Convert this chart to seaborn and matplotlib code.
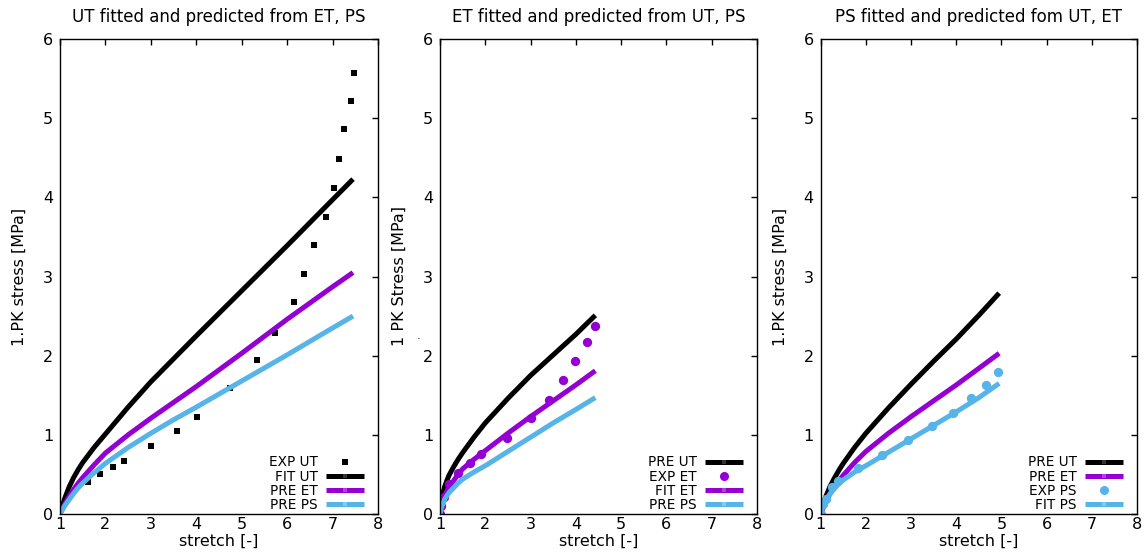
import numpy as np
import pandas as pd
import matplotlib
matplotlib.use("Agg")
import matplotlib.pyplot as plt
from matplotlib.lines import Line2D
import seaborn as sns

# ---------------- data ----------------
# Panel 1: UT fitted and predicted from ET, PS
exp_ut_x = [1.0, 1.62, 1.88, 2.16, 2.41, 3.01, 3.57, 4.01, 4.75, 5.34, 5.74, 6.15, 6.37, 6.60, 6.86, 7.03, 7.14, 7.25, 7.41, 7.48]
exp_ut_y = [0.0, 0.41, 0.505, 0.60, 0.67, 0.855, 1.05, 1.22, 1.59, 1.94, 2.29, 2.68, 3.03, 3.40, 3.75, 4.12, 4.48, 4.86, 5.22, 5.57]
p1_stretch = [1.0, 1.02, 1.05, 1.1, 1.2, 1.3, 1.4, 1.5, 1.75, 2.0, 2.5, 3.0, 3.5, 4.0, 5.0, 6.0, 7.0, 7.45]
p1_fit_ut = [0.0, 0.045, 0.10, 0.19, 0.34, 0.46, 0.56, 0.65, 0.84, 1.01, 1.35, 1.67, 1.96, 2.25, 2.82, 3.39, 3.97, 4.23]
p1_pre_et = [0.0, 0.025, 0.06, 0.12, 0.22, 0.31, 0.39, 0.46, 0.62, 0.77, 1.00, 1.21, 1.41, 1.61, 2.03, 2.46, 2.87, 3.05]
p1_pre_ps = [0.0, 0.02, 0.05, 0.10, 0.18, 0.26, 0.33, 0.39, 0.52, 0.64, 0.84, 1.02, 1.19, 1.35, 1.68, 2.01, 2.35, 2.50]

# Panel 2: ET fitted and predicted from UT, PS
exp_et_x = [1.0, 1.03, 1.08, 1.20, 1.40, 1.66, 1.91, 2.47, 3.02, 3.40, 3.72, 3.99, 4.24, 4.43]
exp_et_y = [0.0, 0.10, 0.22, 0.38, 0.52, 0.65, 0.76, 0.96, 1.21, 1.44, 1.69, 1.93, 2.17, 2.37]
p2_stretch = [1.0, 1.02, 1.05, 1.1, 1.15, 1.2, 1.3, 1.4, 1.5, 1.75, 2.0, 2.5, 3.0, 3.5, 4.0, 4.43]
p2_pre_ut = [0.0, 0.12, 0.22, 0.34, 0.42, 0.49, 0.595, 0.69, 0.775, 0.97, 1.15, 1.46, 1.75, 2.01, 2.27, 2.51]
p2_fit_et = [0.0, 0.07, 0.14, 0.22, 0.29, 0.34, 0.42, 0.50, 0.57, 0.69, 0.80, 1.02, 1.23, 1.43, 1.63, 1.81]
p2_pre_ps = [0.0, 0.06, 0.11, 0.18, 0.23, 0.27, 0.33, 0.39, 0.44, 0.53, 0.61, 0.79, 0.97, 1.15, 1.32, 1.47]

# Panel 3: PS fitted and predicted fom UT, ET
exp_ps_x = [1.0, 1.06, 1.12, 1.24, 1.39, 1.83, 2.35, 2.94, 3.46, 3.92, 4.33, 4.65, 4.93]
exp_ps_y = [0.0, 0.13, 0.19, 0.34, 0.42, 0.58, 0.75, 0.94, 1.11, 1.28, 1.46, 1.63, 1.79]
p3_stretch = [1.0, 1.02, 1.05, 1.1, 1.15, 1.2, 1.3, 1.4, 1.5, 1.75, 2.0, 2.5, 3.0, 3.5, 4.0, 4.5, 4.95]
p3_pre_ut = [0.0, 0.05, 0.11, 0.20, 0.27, 0.34, 0.45, 0.55, 0.64, 0.84, 1.02, 1.34, 1.64, 1.93, 2.21, 2.51, 2.79]
p3_pre_et = [0.0, 0.03, 0.07, 0.14, 0.20, 0.25, 0.34, 0.42, 0.49, 0.65, 0.79, 1.02, 1.23, 1.43, 1.63, 1.84, 2.03]
p3_fit_ps = [0.0, 0.04, 0.09, 0.15, 0.20, 0.25, 0.32, 0.38, 0.43, 0.53, 0.61, 0.78, 0.95, 1.12, 1.29, 1.47, 1.65]

titles = ["UT fitted and predicted from ET, PS",
          "ET fitted and predicted from UT, PS",
          "PS fitted and predicted fom UT, ET"]
ylabels = ["1.PK stress [MPa]", "1 PK Stress [MPa]", "1.PK stress [MPa]"]
xlabel = "stretch [-]"
xticks = [1, 2, 3, 4, 5, 6, 7, 8]
yticks = [0, 1, 2, 3, 4, 5, 6]

# ---------------- style ----------------
BLACK = "#000000"
PURPLE = "#9400D3"
BLUE = "#56B4E9"
LW = 3.6

sns.set_theme(style="white")
plt.rcParams["font.family"] = ["DejaVu Sans"]
plt.rcParams["axes.edgecolor"] = "black"
plt.rcParams["axes.linewidth"] = 1.0
plt.rcParams["text.color"] = "black"
plt.rcParams["axes.labelcolor"] = "black"
plt.rcParams["xtick.color"] = "black"
plt.rcParams["ytick.color"] = "black"

fig = plt.figure(figsize=(11.45, 5.53), dpi=100)
W, H = 1145.0, 553.0
lefts = [60, 440, 820.7]
rights = [378, 757, 1137]
top, bottom = 39, 514
axes = []
for l, r in zip(lefts, rights):
    ax = fig.add_axes([l / W, 1 - bottom / H, (r - l) / W, (bottom - top) / H])
    axes.append(ax)


def line(ax, x, y, color):
    df = pd.DataFrame({"x": x, "y": y})
    sns.lineplot(data=df, x="x", y="y", ax=ax, color=color, linewidth=LW,
                 legend=False, sort=False, solid_capstyle="butt", solid_joinstyle="round")


def points(ax, x, y, color, marker, size):
    df = pd.DataFrame({"x": x, "y": y})
    sns.scatterplot(data=df, x="x", y="y", ax=ax, color=color, marker=marker,
                    s=size, linewidth=0, legend=False, zorder=2)


def line_handle(color, mcolor):
    return Line2D([], [], color=color, linewidth=LW, solid_capstyle="butt",
                  marker="s", markersize=3.5, markerfacecolor=mcolor, markeredgewidth=0)


def point_handle(color, marker, ms):
    return Line2D([], [], color=color, linestyle="none", marker=marker,
                  markersize=ms, markeredgewidth=0)


# Panel 1
ax = axes[0]
points(ax, exp_ut_x, exp_ut_y, BLACK, "s", 20)
line(ax, p1_stretch, p1_fit_ut, BLACK)
line(ax, p1_stretch, p1_pre_et, PURPLE)
line(ax, p1_stretch, p1_pre_ps, BLUE)
h1 = [point_handle(BLACK, "s", 4.5), line_handle(BLACK, "#333333"),
      line_handle(PURPLE, "#b040e0"), line_handle(BLUE, "#80cbf0")]
l1 = ["EXP UT", "FIT UT", "PRE ET", "PRE PS"]

# Panel 2
ax = axes[1]
line(ax, p2_stretch, p2_pre_ut, BLACK)
points(ax, exp_et_x, exp_et_y, PURPLE, "o", 45)
line(ax, p2_stretch, p2_fit_et, PURPLE)
line(ax, p2_stretch, p2_pre_ps, BLUE)
h2 = [line_handle(BLACK, "#333333"), point_handle(PURPLE, "o", 6.5),
      line_handle(PURPLE, "#b040e0"), line_handle(BLUE, "#80cbf0")]
l2 = ["PRE UT", "EXP ET", "FIT ET", "PRE PS"]

# Panel 3
ax = axes[2]
line(ax, p3_stretch, p3_pre_ut, BLACK)
line(ax, p3_stretch, p3_pre_et, PURPLE)
points(ax, exp_ps_x, exp_ps_y, BLUE, "o", 45)
line(ax, p3_stretch, p3_fit_ps, BLUE)
h3 = [line_handle(BLACK, "#333333"), line_handle(PURPLE, "#b040e0"),
      point_handle(BLUE, "o", 6.5), line_handle(BLUE, "#80cbf0")]
l3 = ["PRE UT", "PRE ET", "EXP PS", "FIT PS"]

for ax, t, yl, hs, ls in zip(axes, titles, ylabels, [h1, h2, h3], [l1, l2, l3]):
    ax.set_xlim(1, 8)
    ax.set_ylim(0, 6)
    ax.set_xticks(xticks)
    ax.set_yticks(yticks)
    ax.tick_params(direction="in", length=4.5, width=1, top=True, right=True,
                   labelsize=11.5)
    ax.tick_params(axis="x", pad=2)
    ax.tick_params(axis="y", pad=5)
    for s in ax.spines.values():
        s.set_visible(True)
        s.set_color("black")
        s.set_linewidth(1.0)
    ax.set_title(t, fontsize=12, pad=12)
    ax.set_xlabel(xlabel, fontsize=11.5)
    ax.set_ylabel(yl, fontsize=11.5)
    ax.xaxis.set_label_coords(0.5, -0.042)
    ax.xaxis.label.set_verticalalignment("top")
    ax.yaxis.set_label_coords(-0.105, 0.5)
    ax.legend(hs, ls, loc="lower right", bbox_to_anchor=(0.956, 0.004),
              frameon=False, markerfirst=False, fontsize=9.8, handlelength=2.8,
              handletextpad=0.6, labelspacing=0.02, borderpad=0, borderaxespad=0,
              numpoints=1)

fig.text(419 / W, 1 - 339 / H, ".", fontsize=8, ha="center", va="baseline")

fig.savefig("out.png", dpi=100)
